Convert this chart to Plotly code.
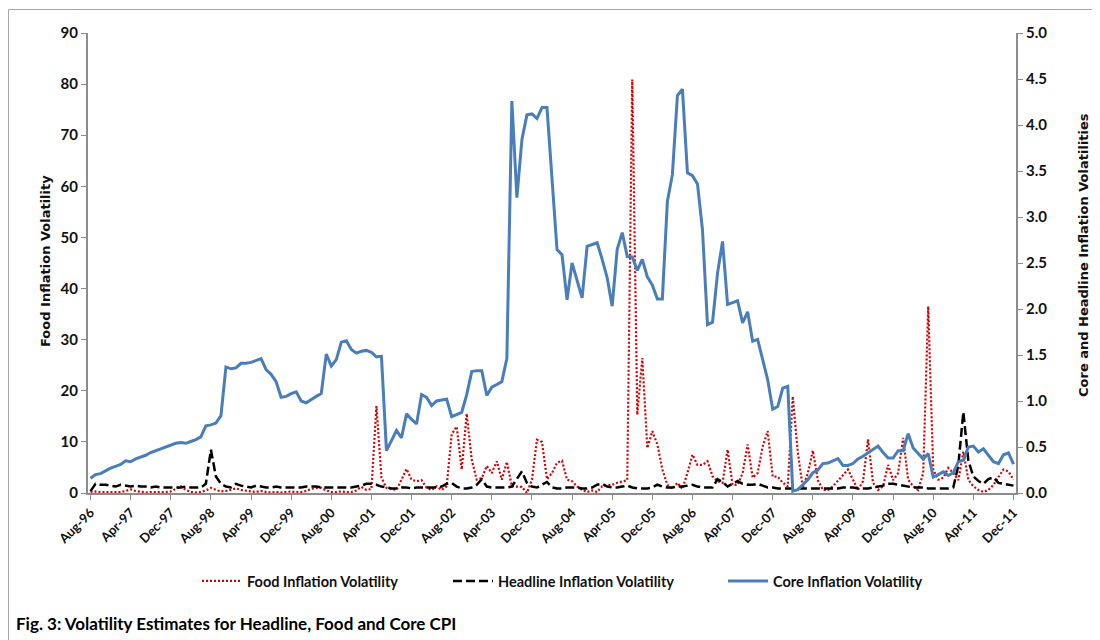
import pandas as pd
import plotly.graph_objects as go

# Monthly categories Aug-96 .. Dec-11
months = [d.strftime("%b-%y") for d in pd.date_range("1996-08-01", "2011-12-01", freq="MS")]

food_vol = [
    0.2, 0.3, 0.2, 0.2, 0.2, 0.3, 0.2, 0.4, 0.7, 0.4,
    0.2, 0.1, 0.2, 0.2, 0.1, 0.2, 0.3, 0.8, 1.3, 0.6,
    0.2, 0.1, 0.2, 0.5, 1.0, 0.6, 0.3, 0.4, 0.6, 0.9,
    0.6, 0.4, 0.3, 0.2, 0.4, 0.2, 0.1, 0.2, 0.1, 0.2,
    0.3, 0.2, 0.2, 0.4, 0.8, 1.0, 1.0, 0.5, 0.2, 0.2,
    0.3, 0.2, 0.2, 0.5, 1.2, 0.6, 0.8, 17.0, 3.0, 1.0,
    0.8, 0.6, 2.6, 4.7, 2.6, 2.3, 2.5, 1.0, 0.6, 1.3,
    0.6, 1.3, 11.5, 13.0, 4.6, 15.5, 6.5, 2.6, 2.9, 5.3,
    3.9, 6.2, 2.6, 6.1, 1.3, 1.3, 1.2, 0.0, 2.6, 10.4,
    10.0, 2.7, 3.9, 5.9, 6.3, 2.6, 2.3, 1.3, 0.6, 0.2,
    0.5, 0.2, 1.3, 1.5, 1.6, 2.0, 2.3, 2.5, 80.9, 15.3,
    26.4, 8.8, 12.1, 9.5, 4.6, 1.6, 0.8, 2.0, 0.8, 3.9,
    7.5, 5.5, 5.5, 6.2, 3.3, 2.3, 2.0, 8.5, 1.6, 1.6,
    3.9, 9.5, 3.0, 3.9, 9.1, 12.1, 3.2, 3.2, 2.0, 1.3,
    18.9, 8.0, 1.0, 3.9, 8.3, 2.5, 0.6, 0.6, 1.3, 2.3,
    3.5, 4.6, 2.6, 0.6, 2.3, 10.5, 2.0, 0.6, 1.3, 5.5,
    2.5, 3.9, 10.8, 2.6, 1.3, 0.6, 3.9, 36.5, 4.6, 2.6,
    3.0, 4.9, 3.9, 2.5, 8.1, 2.6, 1.3, 0.6, 0.2, 0.6,
    1.6, 3.0, 4.6, 4.2, 2.6,
]

headline_vol = [
    0.02, 0.10, 0.09, 0.09, 0.08, 0.07, 0.09, 0.08, 0.07, 0.08,
    0.07, 0.07, 0.06, 0.07, 0.06, 0.06, 0.06, 0.06, 0.06, 0.07,
    0.06, 0.06, 0.06, 0.10, 0.47, 0.18, 0.10, 0.07, 0.06, 0.10,
    0.08, 0.07, 0.06, 0.08, 0.07, 0.06, 0.06, 0.07, 0.06, 0.06,
    0.06, 0.06, 0.06, 0.07, 0.07, 0.07, 0.06, 0.06, 0.06, 0.06,
    0.06, 0.06, 0.06, 0.07, 0.08, 0.10, 0.10, 0.09, 0.07, 0.06,
    0.05, 0.05, 0.06, 0.06, 0.05, 0.06, 0.06, 0.06, 0.06, 0.06,
    0.07, 0.10, 0.11, 0.07, 0.05, 0.05, 0.06, 0.09, 0.15, 0.07,
    0.06, 0.06, 0.06, 0.06, 0.07, 0.15, 0.235, 0.11, 0.07, 0.06,
    0.09, 0.12, 0.06, 0.05, 0.05, 0.06, 0.06, 0.06, 0.05, 0.05,
    0.06, 0.09, 0.10, 0.07, 0.06, 0.06, 0.07, 0.08, 0.06, 0.05,
    0.05, 0.05, 0.06, 0.09, 0.07, 0.06, 0.06, 0.07, 0.07, 0.08,
    0.09, 0.07, 0.06, 0.06, 0.06, 0.15, 0.12, 0.07, 0.10, 0.13,
    0.10, 0.09, 0.09, 0.10, 0.08, 0.06, 0.06, 0.05, 0.05, 0.05,
    0.05, 0.05, 0.05, 0.05, 0.05, 0.05, 0.05, 0.05, 0.05, 0.05,
    0.06, 0.06, 0.06, 0.05, 0.05, 0.05, 0.06, 0.07, 0.08, 0.10,
    0.10, 0.09, 0.08, 0.07, 0.06, 0.06, 0.06, 0.05, 0.05, 0.05,
    0.05, 0.05, 0.06, 0.30, 0.88, 0.35, 0.18, 0.13, 0.10, 0.15,
    0.17, 0.11, 0.10, 0.09, 0.08,
]

core_vol = [
    0.16, 0.20, 0.21, 0.24, 0.27, 0.29, 0.31, 0.35, 0.34, 0.37,
    0.39, 0.41, 0.44, 0.46, 0.48, 0.50, 0.52, 0.54, 0.55, 0.54,
    0.56, 0.58, 0.61, 0.73, 0.74, 0.76, 0.84, 1.37, 1.35, 1.36,
    1.41, 1.41, 1.42, 1.44, 1.46, 1.34, 1.29, 1.21, 1.04, 1.05,
    1.08, 1.10, 1.00, 0.98, 1.02, 1.05, 1.08, 1.51, 1.38, 1.45,
    1.64, 1.655, 1.56, 1.52, 1.54, 1.55, 1.53, 1.48, 1.485, 0.46,
    0.57, 0.68, 0.60, 0.86, 0.80, 0.75, 1.07, 1.04, 0.95, 1.00,
    1.01, 1.02, 0.83, 0.85, 0.876, 1.07, 1.32, 1.33, 1.33, 1.06,
    1.15, 1.18, 1.21, 1.46, 4.26, 3.21, 3.84, 4.11, 4.12, 4.07,
    4.19, 4.19, 3.40, 2.645, 2.59, 2.10, 2.50, 2.30, 2.12, 2.68,
    2.70, 2.72, 2.54, 2.34, 2.03, 2.65, 2.83, 2.57, 2.565, 2.42,
    2.54, 2.35, 2.26, 2.11, 2.11, 3.17, 3.46, 4.32, 4.39, 3.48,
    3.45, 3.36, 2.86, 1.83, 1.855, 2.39, 2.735, 2.05, 2.07, 2.09,
    1.85, 1.97, 1.65, 1.67, 1.45, 1.23, 0.91, 0.94, 1.14, 1.16,
    0.02, 0.036, 0.09, 0.145, 0.22, 0.25, 0.32, 0.326, 0.35, 0.373,
    0.30, 0.30, 0.32, 0.37, 0.40, 0.435, 0.47, 0.51, 0.44, 0.38,
    0.38, 0.46, 0.46, 0.645, 0.49, 0.43, 0.37, 0.43, 0.174, 0.20,
    0.23, 0.19, 0.22, 0.34, 0.355, 0.50, 0.51, 0.446, 0.48, 0.41,
    0.34, 0.32, 0.416, 0.435, 0.315,
]

tick_labels = months[::8]
left_ticks = [0, 10, 20, 30, 40, 50, 60, 70, 80, 90]
right_ticks = [0.0, 0.5, 1.0, 1.5, 2.0, 2.5, 3.0, 3.5, 4.0, 4.5, 5.0]

# The page body has an 8px margin; work in page pixels and shift into figure pixels.
OFF = 8
W, H = 1100 - OFF, 640 - OFF
PL, PR, PT, PB = 88, 1016, 33, 493          # plot box in page pixels
L, R, T, B = PL - OFF, PR - OFF, PT - OFF, PB - OFF


def px(page_x):
    return (page_x - PL) / (PR - PL)


def py(page_y):
    return (PB - page_y) / (PB - PT)


MAIN_FONT = "Lato, Open Sans, sans-serif"
TITLE_FONT = "DejaVu Sans, sans-serif"
AXIS_GRAY = "#8c8c8c"
LEGEND_FONT = dict(family=MAIN_FONT, size=14.5, color="#111", weight="bold")


def legend_box(page_x):
    return dict(
        orientation="h", x=px(page_x), y=py(581), xanchor="left", yanchor="middle",
        itemwidth=40, font=LEGEND_FONT, bgcolor="rgba(0,0,0,0)",
    )


fig = go.Figure()
fig.add_trace(go.Scatter(
    x=months, y=food_vol, name="Food Inflation Volatility", mode="lines",
    line=dict(color="#D80000", width=2.2, dash="2px,2px"), yaxis="y", legend="legend",
))
fig.add_trace(go.Scatter(
    x=months, y=headline_vol, name="Headline Inflation Volatility", mode="lines",
    line=dict(color="#000000", width=2.5, dash="9px,4px"), yaxis="y2", legend="legend2",
))
fig.add_trace(go.Scatter(
    x=months, y=core_vol, name="Core Inflation Volatility", mode="lines",
    line=dict(color="#4A7EBB", width=3), yaxis="y2", legend="legend3",
))

fig.update_layout(
    width=W, height=H,
    margin=dict(l=L, r=W - R, t=T, b=H - B, pad=0, autoexpand=False),
    paper_bgcolor="white", plot_bgcolor="white",
    showlegend=True,
    legend=legend_box(197),
    legend2=legend_box(448),
    legend3=legend_box(723),
    xaxis=dict(
        type="category", range=[-0.5, len(months) - 0.5], automargin=False,
        tickmode="array", tickvals=tick_labels, ticktext=tick_labels,
        tickangle=-45, ticks="outside", ticklen=5, tickcolor=AXIS_GRAY,
        showline=True, linecolor=AXIS_GRAY, linewidth=2,
        showgrid=False, zeroline=False,
        tickfont=dict(family=MAIN_FONT, size=13, color="#111", weight="bold"),
    ),
    yaxis=dict(
        range=[0, 90], tickmode="array", tickvals=left_ticks, automargin=False,
        ticks="outside", ticklen=5, tickcolor=AXIS_GRAY,
        showline=True, linecolor=AXIS_GRAY, linewidth=2,
        showgrid=False, zeroline=False,
        tickfont=dict(family=MAIN_FONT, size=15, color="#111", weight="bold"),
    ),
    yaxis2=dict(
        range=[0, 5], overlaying="y", side="right", tickmode="array", automargin=False,
        tickvals=right_ticks, tickformat=".1f",
        ticks="outside", ticklen=5, tickcolor=AXIS_GRAY,
        showline=True, linecolor=AXIS_GRAY, linewidth=2,
        showgrid=False, zeroline=False,
        tickfont=dict(family=MAIN_FONT, size=15, color="#111", weight="bold"),
    ),
    annotations=[
        dict(text="Food Inflation Volatility", xref="paper", yref="paper",
             x=px(45), y=py(261), textangle=-90, showarrow=False,
             xanchor="center", yanchor="middle",
             font=dict(family=TITLE_FONT, size=13, color="#111", weight="bold")),
        dict(text="Core and Headline Inflation Volatilities", xref="paper", yref="paper",
             x=px(1083), y=py(255), textangle=-90, showarrow=False,
             xanchor="center", yanchor="middle",
             font=dict(family=TITLE_FONT, size=13, color="#111", weight="bold")),
        dict(text="Fig. 3: Volatility Estimates for Headline, Food and Core CPI",
             xref="paper", yref="paper", x=px(14), y=py(623), showarrow=False,
             xanchor="left", yanchor="middle",
             font=dict(family=MAIN_FONT, size=17, color="#000", weight="bold")),
    ],
    shapes=[
        dict(type="line", xref="paper", yref="paper", x0=px(8.5), x1=px(1110),
             y0=py(9.5), y1=py(9.5), line=dict(color="#a6a6a6", width=1)),
        dict(type="line", xref="paper", yref="paper", x0=px(8.5), x1=px(8.5),
             y0=py(9.5), y1=py(660), line=dict(color="#a6a6a6", width=1)),
    ],
)

fig.write_html("out.html")
